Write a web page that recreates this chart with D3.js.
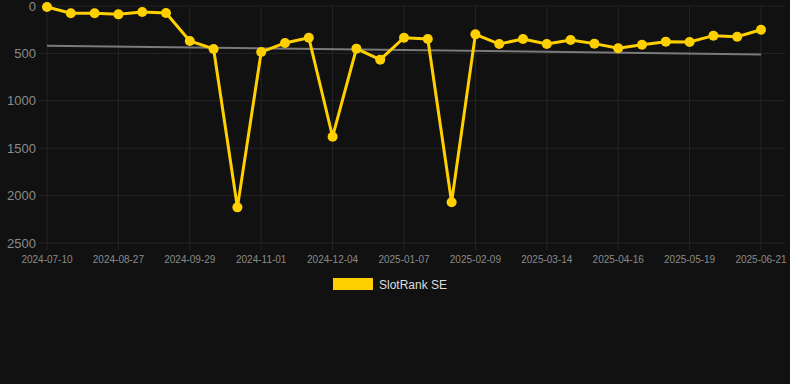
<!DOCTYPE html>
<html>
<head>
<meta charset="utf-8">
<script src="https://cdn.jsdelivr.net/npm/d3@7"></script>
<style>
  html, body { margin: 0; padding: 0; background: #111111; }
  svg { display: block; font-family: "Liberation Sans", Arial, sans-serif; }
</style>
</head>
<body>
<div id="chart"></div>
<script>
const dates = [
  "2024-07-10", "2024-07-26", "2024-08-11", "2024-08-27", "2024-09-07", "2024-09-18",
  "2024-09-29", "2024-10-10", "2024-10-21", "2024-11-01", "2024-11-12", "2024-11-23",
  "2024-12-04", "2024-12-15", "2024-12-26", "2025-01-07", "2025-01-18", "2025-01-29",
  "2025-02-09", "2025-02-20", "2025-03-03", "2025-03-14", "2025-03-25", "2025-04-05",
  "2025-04-16", "2025-04-27", "2025-05-08", "2025-05-19", "2025-05-30", "2025-06-10",
  "2025-06-21"
];
const rankSE = [
  10, 77, 77, 88, 63, 74,
  369, 453, 2124, 485, 390, 334,
  1379, 450, 566, 334, 348, 2071,
  299, 401, 348, 401, 359, 397,
  446, 408, 376, 380, 313, 324,
  250
];
const yTicks = [0, 500, 1000, 1500, 2000, 2500];
const seriesName = "SlotRank SE";

const width = 790, height = 384;
const plotLeft = 47, plotRight = 761, plotTop = 6, plotBottom = 243;

const svg = d3.select("#chart").append("svg")
  .attr("width", width)
  .attr("height", height);

svg.append("rect").attr("width", width).attr("height", height).attr("fill", "#111111");

const x = d3.scalePoint().domain(dates).range([plotLeft, plotRight]);
const y = d3.scaleLinear().domain([0, 2500]).range([plotTop, plotBottom]);

// horizontal grid
svg.append("g")
  .selectAll("line")
  .data(yTicks)
  .join("line")
  .attr("x1", plotLeft - 8)
  .attr("x2", 785)
  .attr("y1", d => y(d))
  .attr("y2", d => y(d))
  .attr("stroke", "#252525")
  .attr("stroke-width", 1);

// vertical grid, every third category
const shownDates = dates.filter((d, i) => i % 3 === 0);
svg.append("g")
  .selectAll("line")
  .data(shownDates)
  .join("line")
  .attr("x1", d => x(d))
  .attr("x2", d => x(d))
  .attr("y1", plotTop)
  .attr("y2", plotBottom + 7)
  .attr("stroke", "#252525")
  .attr("stroke-width", 1);

// y labels
svg.append("g")
  .selectAll("text")
  .data(yTicks)
  .join("text")
  .attr("x", 36)
  .attr("y", d => y(d))
  .attr("dy", "0.35em")
  .attr("text-anchor", "end")
  .attr("fill", "#8a8a8a")
  .style("font-size", "13px")
  .text(d => d);

// x labels
svg.append("g")
  .selectAll("text")
  .data(shownDates)
  .join("text")
  .attr("x", d => x(d))
  .attr("y", 263)
  .attr("text-anchor", "middle")
  .attr("fill", "#8a8a8a")
  .style("font-size", "10px")
  .text(d => d);

// linear trend from the series
const n = rankSE.length;
const meanI = (n - 1) / 2;
const meanV = d3.mean(rankSE);
const slope = d3.sum(rankSE, (v, i) => (i - meanI) * (v - meanV)) /
  d3.sum(rankSE, (v, i) => (i - meanI) * (i - meanI));
const trend = [0, n - 1].map(i => ({ d: dates[i], v: meanV + slope * (i - meanI) }));

svg.append("path")
  .datum(trend)
  .attr("fill", "none")
  .attr("stroke", "#7a7a7a")
  .attr("stroke-width", 2)
  .attr("d", d3.line().x(p => x(p.d)).y(p => y(p.v)));

// series line
const pts = dates.map((d, i) => ({ d, v: rankSE[i] }));
svg.append("path")
  .datum(pts)
  .attr("fill", "none")
  .attr("stroke", "#ffd000")
  .attr("stroke-width", 3)
  .attr("stroke-linejoin", "miter")
  .attr("d", d3.line().x(p => x(p.d)).y(p => y(p.v)));

svg.append("g")
  .selectAll("circle")
  .data(pts)
  .join("circle")
  .attr("cx", p => x(p.d))
  .attr("cy", p => y(p.v))
  .attr("r", 5)
  .attr("fill", "#ffd000");

// legend
const legend = svg.append("g");
legend.append("rect")
  .attr("x", 333)
  .attr("y", 278)
  .attr("width", 40)
  .attr("height", 12)
  .attr("fill", "#ffd000");
legend.append("text")
  .attr("x", 379)
  .attr("y", 289)
  .attr("fill", "#dddddd")
  .style("font-size", "12px")
  .text(seriesName);
</script>
</body>
</html>
